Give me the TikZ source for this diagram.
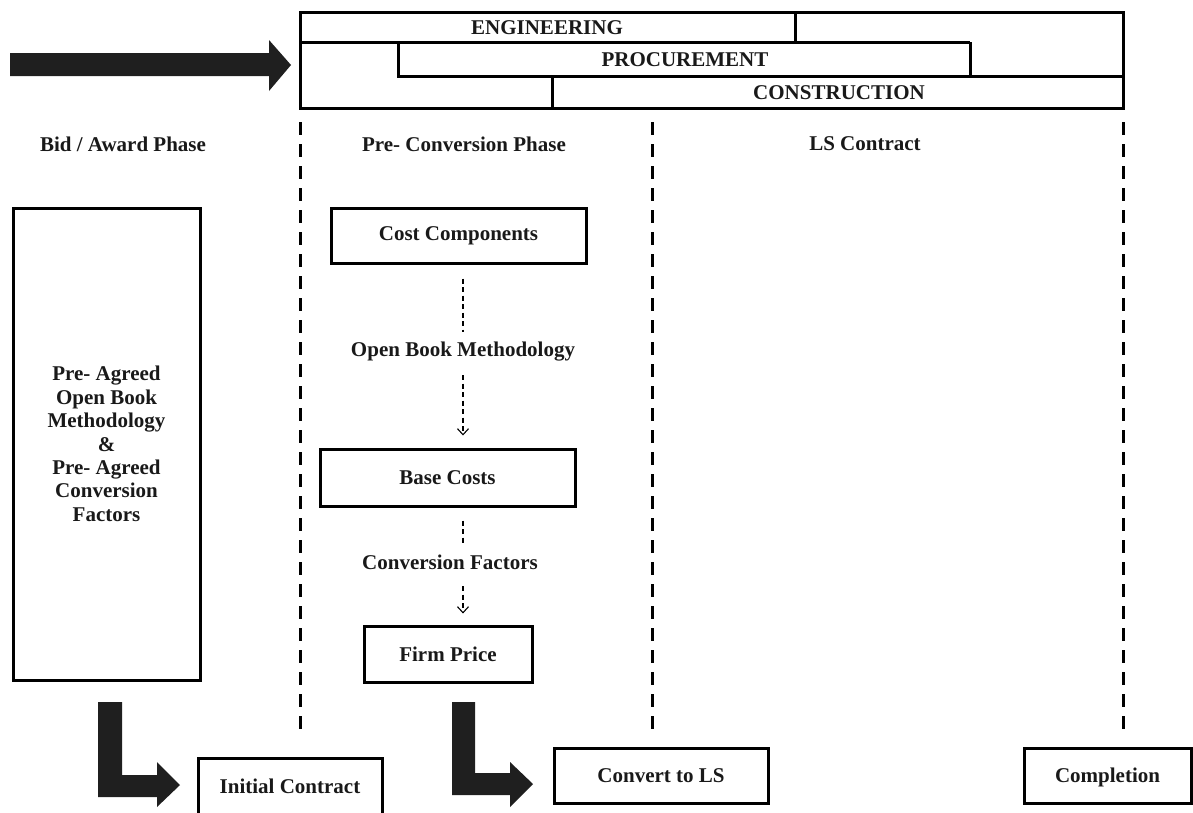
\documentclass[tikz,border=0pt]{standalone}
\usepackage{fontspec}
\setmainfont{Liberation Serif}
\usetikzlibrary{arrows.meta}
\newcommand{\dgfont}{\bfseries\fontsize{21}{23.4}\selectfont}
\begin{document}
\begin{tikzpicture}[x=1pt,y=-1pt,
  every node/.style={font=\dgfont, text=black!90, inner sep=0pt},
  box/.style={draw=black, line width=3pt, align=center},
  bar/.style={draw=black, line width=3pt},
  phase/.style={line width=3pt, dash pattern=on 13pt off 9pt},
  flow/.style={line width=1.1pt, dash pattern=on 5pt off 3.5pt,
    -{Straight Barb[length=6pt,width=11pt,line width=1.1pt]}},
  flowline/.style={line width=1.1pt, dash pattern=on 5pt off 3.5pt},
  fat/.style={fill=black!88, draw=none}]
\useasboundingbox (0,0) rectangle (1193,812);

% EPC banner
\draw[bar] (300,12) rectangle (1123,108);
\draw[bar] (300,42) -- (970,42);
\draw[bar] (795,12) -- (795,42);
\draw[bar] (398,42) -- (398,76) -- (1123,76);
\draw[bar] (970,42) -- (970,76);
\draw[bar] (552,76) -- (552,108);
\node (eng)  at (547,28) {ENGINEERING};
\node (proc) at (685,60) {PROCUREMENT};
\node (cons) at (839,93) {CONSTRUCTION};

% lead-in arrow
\fill[fat] (10,53) -- (269,53) -- (269,40) -- (291,65) -- (269,91) -- (269,76) -- (10,76) -- cycle;

% phase separators
\draw[phase] (300,122) -- (300,737);
\draw[phase] (652,122) -- (652,737);
\draw[phase] (1123,122) -- (1123,737);

% phase headings
\node (h1) at (123,144) {Bid / Award Phase};
\node (h2) at (464,144) {Pre- Conversion Phase};
\node (h3) at (865,144) {LS Contract};

% bid / award box
\node[box, minimum width=187, minimum height=472] (lb) at (106.5,444)
  {Pre- Agreed\\Open Book\\Methodology\\\&\\Pre- Agreed\\Conversion\\Factors};

% pre-conversion chain
\node[box, minimum width=255, minimum height=55] (cc) at (458.5,235.5) {Cost Components};
\node (obm) at (463,352) {Open Book Methodology};
\node[box, minimum width=255, minimum height=57] (bc) at (447.5,477.5) {Base Costs};
\node (cf) at (450,562) {Conversion Factors};
\node[box, minimum width=168, minimum height=56] (fp) at (448,654) {Firm Price};

\draw[flowline, shorten <=14pt, shorten >=20pt] (cc.south -| obm.center) -- (obm.center);
\draw[flow, shorten <=23pt, shorten >=12pt] (obm.center) -- (bc.north -| obm.center);
\draw[flowline, shorten <=13pt, shorten >=19pt] (bc.south -| obm.center) -- (cf.center -| obm.center);
\draw[flow, shorten <=24pt, shorten >=11pt] (cf.center -| obm.center) -- (fp.north -| obm.center);

% milestones
\node[box, minimum width=184, minimum height=56] (ic) at (290,786) {Initial Contract};
\node[box, minimum width=214, minimum height=55] (cl) at (661,775.5) {Convert to LS};
\node[box, minimum width=167, minimum height=55, text depth=0pt] (co) at (1107.5,775.5) {Completion};

% bent arrows into the milestones
\fill[fat] (98,702) -- (122,702) -- (122,775) -- (157,775) -- (157,762) -- (180,785)
  -- (157,807) -- (157,797) -- (98,797) -- cycle;
\fill[fat] (452,702) -- (475,702) -- (475,773) -- (510,773) -- (510,762) -- (533,784)
  -- (510,807) -- (510,795) -- (452,795) -- cycle;
\end{tikzpicture}
\end{document}
